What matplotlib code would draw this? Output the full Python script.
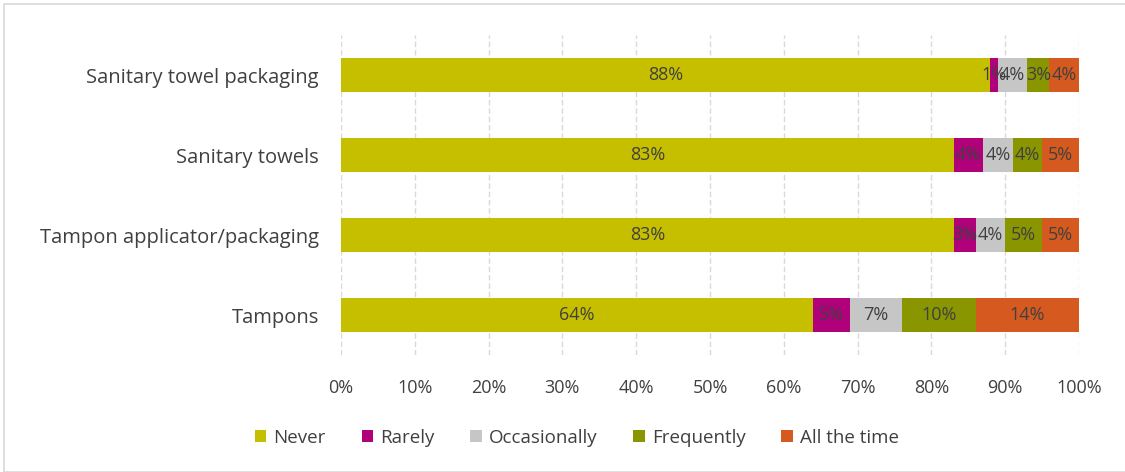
import matplotlib.pyplot as plt
import numpy as np
from matplotlib.patches import Rectangle

plt.rcParams["font.family"] = ["Open Sans", "DejaVu Sans"]

categories = ["Sanitary towel packaging", "Sanitary towels", "Tampon applicator/packaging", "Tampons"]
series = ["Never", "Rarely", "Occasionally", "Frequently", "All the time"]
never = [88, 83, 83, 64]
rarely = [1, 4, 3, 5]
occasionally = [4, 4, 4, 7]
frequently = [3, 4, 5, 10]
all_the_time = [4, 5, 5, 14]
colors = ["#C5BF00", "#B0007A", "#C6C6C6", "#8A9600", "#D65A1F"]
ticks = np.arange(0, 101, 10)

values = [never, rarely, occasionally, frequently, all_the_time]

fig = plt.figure(figsize=(11.25, 4.72), dpi=100)
ax = fig.add_axes([341 / 1125, 1 - 355 / 472, 738 / 1125, 320 / 472])

# chart frame
fig.patches.append(Rectangle((4 / 1125, 0.0), 1.0, 1 - 4 / 472, transform=fig.transFigure,
                             fill=False, edgecolor="#D9D9D9", linewidth=1.2, zorder=0))

y = np.arange(len(categories))
left = np.zeros(len(categories))
for name, vals, col in zip(series, values, colors):
    vals = np.array(vals, dtype=float)
    ax.barh(y, vals, left=left, height=0.43, color=col, label=name, zorder=3)
    for yi, l, v in zip(y, left, vals):
        ax.text(l + v / 2, yi, f"{v:.0f}%", ha="center", va="center",
                fontsize=13, color="#404040", zorder=4)
    left += vals

ax.set_xlim(0, 100)
ax.set_ylim(3.5, -0.5)
ax.set_yticks(y)
ax.set_yticklabels(categories, fontsize=14.5, color="#404040")
ax.set_xticks(ticks)
ax.set_xticklabels([f"{t}%" for t in ticks], fontsize=13, color="#404040")
ax.tick_params(axis="both", length=0)
ax.tick_params(axis="x", pad=17)
ax.tick_params(axis="y", pad=16)
ax.grid(axis="x", color="#D9D9D9", linestyle=(0, (4, 2)), linewidth=1, zorder=0)
for s in ax.spines.values():
    s.set_visible(False)

ax.legend(loc="center", bbox_to_anchor=(577 / 1125, 1 - 438 / 472), bbox_transform=fig.transFigure,
          ncol=5, frameon=False, fontsize=13.5, handlelength=0.6, handleheight=0.6,
          handletextpad=0.4, columnspacing=1.9, labelcolor="#404040")

fig.savefig("out.png", dpi=100)
